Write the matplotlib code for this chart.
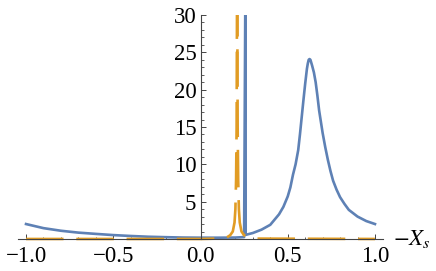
import matplotlib
matplotlib.use("Agg")
import matplotlib.pyplot as plt
from matplotlib.ticker import MultipleLocator

# blue curve
blue_x = [-1.0, -0.9, -0.8, -0.7, -0.6, -0.5, -0.4, -0.3, -0.2, -0.1, 0.0,
          0.1, 0.2, 0.25, 0.2585, 0.259, 0.30, 0.35, 0.40, 0.45, 0.475,
          0.50, 0.515, 0.53, 0.545, 0.56, 0.57, 0.58, 0.59, 0.60, 0.61,
          0.615, 0.62, 0.625, 0.63, 0.635, 0.64, 0.65, 0.66, 0.67, 0.68,
          0.69, 0.70, 0.715, 0.73, 0.745, 0.76, 0.78, 0.80, 0.825, 0.85,
          0.90, 0.95, 1.0]
blue_y = [2.0, 1.45, 1.1, 0.85, 0.68, 0.52, 0.40, 0.30, 0.24, 0.19, 0.17,
          0.17, 0.19, 0.25, 40.0, 0.55, 0.8, 1.25, 1.9, 3.3, 4.3,
          5.7, 6.9, 8.6, 10.0, 11.9, 14.0, 16.3, 18.6, 20.8, 22.8,
          23.5, 24.0, 24.1, 24.0, 23.6, 23.2, 22.3, 21.0, 19.2, 17.2,
          15.7, 14.2, 12.3, 10.6, 9.1, 7.8, 6.6, 5.6, 4.7, 3.9,
          3.0, 2.4, 2.0]

# orange dashed curve
orange_x = [-1.0, 0.0, 0.10, 0.15, 0.17, 0.185, 0.195, 0.200, 0.204, 0.207,
            0.209, 0.210, 0.211, 0.213, 0.216, 0.220, 0.225, 0.235, 0.25,
            0.27, 0.32, 1.0]
orange_y = [0.0, 0.0, 0.05, 0.2, 0.5, 1.0, 2.2, 4.0, 8.0, 15.0,
            30.0, 60.0, 30.0, 15.0, 8.0, 4.0, 2.2, 1.0, 0.5,
            0.2, 0.05, 0.0]

xticks = [-1.0, -0.5, 0.0, 0.5, 1.0]
xticklabels = ["\u22121.0", "\u22120.5", "0.0", "0.5", "1.0"]
yticks = [5, 10, 15, 20, 25, 30]

plt.rcParams["font.family"] = ["Liberation Serif", "DejaVu Serif"]
plt.rcParams["mathtext.fontset"] = "stix"
plt.rcParams["lines.scale_dashes"] = False

W, H = 436, 271
fig = plt.figure(figsize=(W / 100, H / 100), dpi=100)
ax = fig.add_axes([18 / W, (H - 242.7) / H, 365 / W, (242.7 - 15) / H])

blue = "#5E81B5"
orange = "#E19C24"
ax.plot(blue_x, blue_y, color=blue, lw=1.9, solid_joinstyle="round")
ax.plot(orange_x, orange_y, color=orange, lw=1.9, dashes=(27.0, 9.2))

ax.set_xlim(-1.046, 1.046)
ax.set_ylim(-0.5, 30)

axis_col = "#444444"
for s in ["top", "right"]:
    ax.spines[s].set_visible(False)
ax.spines["left"].set_position(("data", 0))
ax.spines["bottom"].set_position(("data", 0))
ax.spines["left"].set_bounds(0, 30)
for s in ["left", "bottom"]:
    ax.spines[s].set_color(axis_col)
    ax.spines[s].set_linewidth(0.8)

ax.set_xticks(xticks)
ax.set_xticklabels(xticklabels)
ax.set_yticks(yticks)
ax.xaxis.set_minor_locator(MultipleLocator(0.1))
ax.yaxis.set_minor_locator(MultipleLocator(1))
ax.tick_params(axis="both", which="major", direction="in", length=3.6,
               width=0.7, color=axis_col, labelsize=16.5)
ax.tick_params(axis="both", which="minor", direction="in", length=1.8,
               width=0.6, color=axis_col)
ax.tick_params(axis="x", which="major", pad=5)
ax.tick_params(axis="y", which="major", pad=3)

ax.annotate(r"$-X_s$", xy=(1, 0), xycoords=("axes fraction", "data"),
            xytext=(7, 0), textcoords="offset points",
            ha="left", va="center", fontsize=16.5)

fig.savefig("out.png", dpi=100)
